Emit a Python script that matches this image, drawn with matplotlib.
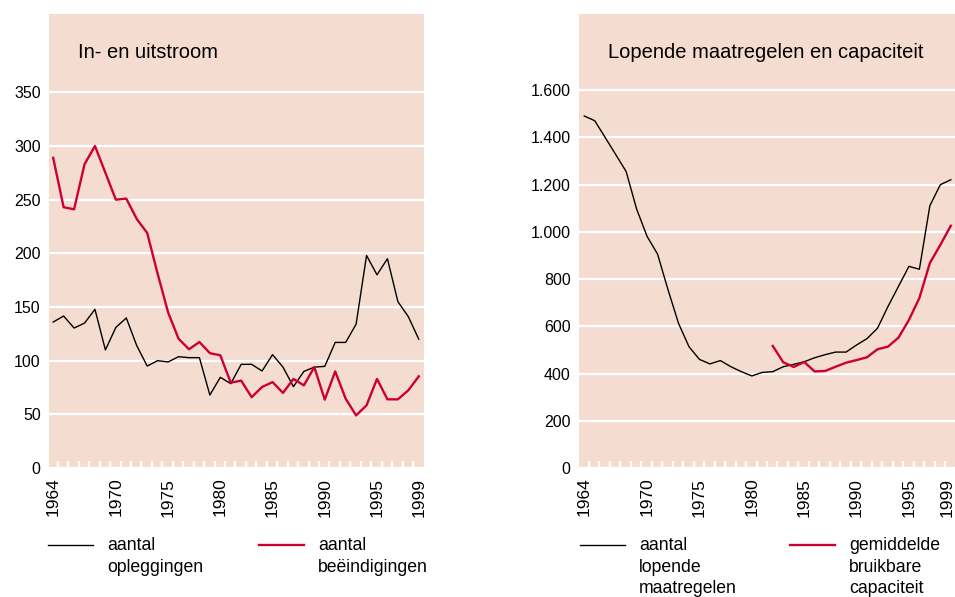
import numpy as np
import matplotlib.pyplot as plt
from matplotlib.lines import Line2D
from matplotlib.ticker import FuncFormatter
from matplotlib.transforms import ScaledTranslation

plt.rcParams['font.family'] = ['Liberation Sans', 'DejaVu Sans']

# ---- data ----
years = np.arange(1964, 2000)
opleggingen = [136, 141.6, 130.4, 135, 147.8, 110, 131, 139.8, 114, 95,
               100, 98.8, 103.7, 102.8, 102.8, 68, 84.5, 78.6, 96.6, 96.6,
               90.4, 105.6, 94, 75.8, 90, 94, 94.7, 117, 117, 134,
               198, 180, 195, 155, 141, 120]
beeindigingen = [289, 243, 241, 283, 300, 275, 250, 251, 232, 219,
                 181, 145, 120.5, 110.6, 117.4, 107, 105, 79.5, 81.4, 66,
                 75.5, 80, 70, 83, 77, 94, 63.7, 90, 64.6, 49,
                 58.4, 83, 64, 64, 72.4, 85.4]

lopend = [1491, 1471, 1400, 1328, 1256, 1097, 981, 906, 755, 613,
          514, 460, 441, 455, 429, 408, 390, 405, 408, 429,
          439, 450, 467, 480, 491, 491, 521, 548, 592, 684,
          769, 854, 842, 1111, 1200, 1221]
cap_years = np.arange(1982, 2000)
capaciteit = [517, 448, 428, 449, 409, 411, 429, 446, 457, 469,
              503, 514, 552, 627, 720, 868, 945, 1026]

year_labels = [1964, 1970, 1975, 1980, 1985, 1990, 1995, 1999]

BG = '#f5dcd1'
RED = '#cc0033'
W, H = 955, 597

fig = plt.figure(figsize=(W / 100, H / 100), dpi=100)
ax1 = fig.add_axes([49 / W, (H - 468) / H, 375 / W, 454 / H])
ax2 = fig.add_axes([579 / W, (H - 468) / H, 376 / W, 454 / H])


def style(ax, ylim, yticks, xlim, title, fmt):
    ax.set_facecolor(BG)
    for s in ax.spines.values():
        s.set_visible(False)
    ax.set_xlim(*xlim)
    ax.set_ylim(*ylim)
    ax.set_yticks(yticks)
    ax.yaxis.set_major_formatter(FuncFormatter(fmt))
    ax.yaxis.grid(True, color='white', lw=1.6)
    ax.set_axisbelow(True)
    ax.tick_params(axis='y', length=0, pad=6, labelsize=11.5)
    ax.set_xticks(year_labels)
    ax.set_xticklabels([str(y) for y in year_labels], rotation=90)
    ax.tick_params(axis='x', which='major', length=0, pad=7, labelsize=12.5)
    ax.set_xticks(years[:-1] + 0.45, minor=True)
    ax.tick_params(axis='x', which='minor', direction='in', color='white',
                   length=5, width=1.6)
    ax.text(0.077, 0.916, title, transform=ax.transAxes, fontsize=14.5,
            va='center', ha='left')


style(ax1, (0, 423), range(0, 351, 50), (1963.6, 1999.5), 'In- en uitstroom',
      lambda v, p: f'{int(v)}')
style(ax2, (0, 1923), range(0, 1601, 200), (1963.5, 1999.4),
      'Lopende maatregelen en capaciteit',
      lambda v, p: f'{int(v):,}'.replace(',', '.'))

# keep the last year label of the right panel inside the figure
last = ax2.get_xticklabels()[-1]
last.set_transform(last.get_transform() + ScaledTranslation(-4 / 100, 0, fig.dpi_scale_trans))

ax1.plot(years, opleggingen, color='black', lw=1.0)
ax1.plot(years, beeindigingen, color=RED, lw=1.7)
ax2.plot(years, lopend, color='black', lw=1.0)
ax2.plot(cap_years, capaciteit, color=RED, lw=1.7)


def legend_entry(x0, y0, color, lw, text):
    fig.add_artist(Line2D([x0 / W, (x0 + 45) / W], [1 - y0 / H] * 2,
                          color=color, lw=lw))
    fig.text((x0 + 59) / W, 1 - (y0 - 8) / H, text, va='top', ha='left',
             fontsize=12.7, linespacing=1.36)


legend_entry(48, 545, 'black', 1.0, 'aantal\nopleggingen')
legend_entry(259, 545, RED, 1.7, 'aantal\nbeëindigingen')
legend_entry(580, 545, 'black', 1.0, 'aantal\nlopende\nmaatregelen')
legend_entry(790, 545, RED, 1.7, 'gemiddelde\nbruikbare\ncapaciteit')

fig.savefig('out.png', dpi=100)
